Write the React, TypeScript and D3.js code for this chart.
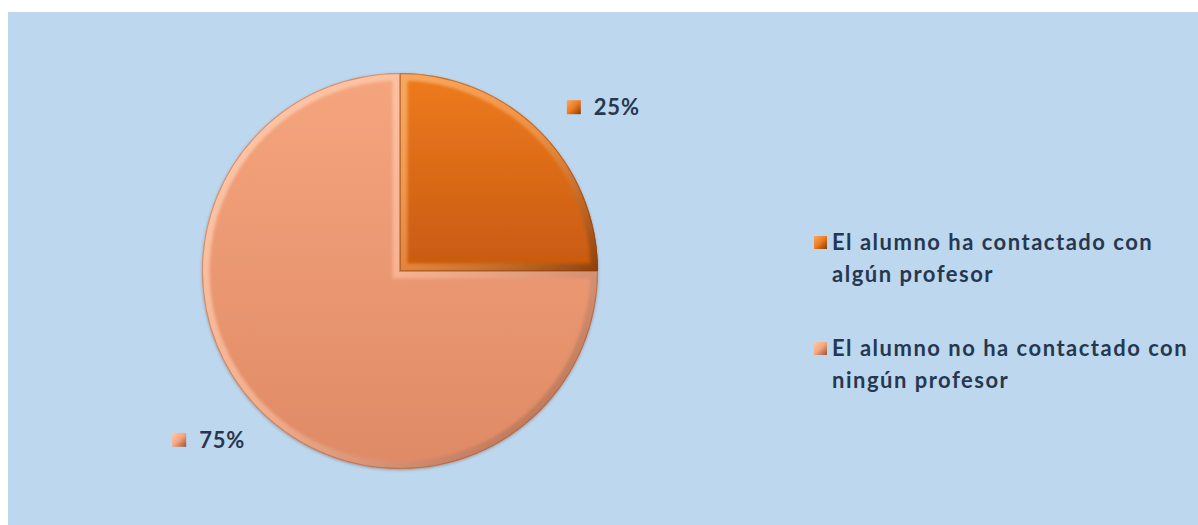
import React from "react";
import * as d3 from "d3";

const categories = [
  "El alumno ha contactado con algún profesor",
  "El alumno no ha contactado con ningún profesor",
];
const legendLines = [
  ["El alumno ha contactado con", "algún profesor"],
  ["El alumno no ha contactado con", "ningún profesor"],
];
const values = [25, 75];
const labels = ["25%", "75%"];

const W = 1198;
const H = 525;
const cx = 400;
const cy = 271;
const R = 198;
const textColor = "#263850";
const font = "Lato, 'Open Sans', sans-serif";

// [top, bottom, rim light, rim dark]
const palette = [
  ["#ee7b1f", "#c85a10", "#f8a862", "#843a08"],
  ["#f5a57e", "#df8a66", "#fdc9ab", "#9a5236"],
];

export default function App() {
  const pie = d3.pie<number>().sort(null).value((d) => d);
  const arcs = pie(values);
  const arc = d3.arc<d3.PieArcDatum<number>>().innerRadius(0).outerRadius(R);
  const labelR = R + 28;

  return (
    <div style={{ position: "absolute", left: 0, top: 0 }}>
      <svg width={W} height={H} style={{ display: "block" }}>
        <defs>
          {palette.map((p, i) => (
            <React.Fragment key={i}>
              <linearGradient id={`fill${i}`} x1="0" y1="0" x2="0" y2="1">
                <stop offset="0%" stopColor={p[0]} />
                <stop offset="100%" stopColor={p[1]} />
              </linearGradient>
              <linearGradient id={`rim${i}`} x1="0" y1="0" x2="1" y2="1">
                <stop offset="0%" stopColor={p[2]} />
                <stop offset="50%" stopColor={p[2]} stopOpacity={0.55} />
                <stop offset="100%" stopColor={p[3]} stopOpacity={0.85} />
              </linearGradient>
              <clipPath id={`clip${i}`}>
                <path d={arc(arcs[i]) || ""} transform={`translate(${cx},${cy})`} />
              </clipPath>
              <linearGradient id={`mk${i}`} x1="0" y1="0" x2="1" y2="1">
                <stop offset="0%" stopColor={p[2]} />
                <stop offset="50%" stopColor={p[0]} />
                <stop offset="100%" stopColor={p[3]} />
              </linearGradient>
            </React.Fragment>
          ))}
          <filter id="shadow" x="-10%" y="-10%" width="120%" height="120%">
            <feDropShadow dx="0" dy="1" stdDeviation="1.5" floodColor="#6a4a3a" floodOpacity="0.45" />
          </filter>
          <filter id="soft" x="-10%" y="-10%" width="120%" height="120%">
            <feGaussianBlur stdDeviation="1.8" />
          </filter>
        </defs>

        <rect x={8} y={12} width={W - 8} height={H - 12} fill="#bdd7ee" />

        <g transform={`translate(${cx},${cy})`} filter="url(#shadow)">
          {arcs.map((a, i) => (
            <path key={i} d={arc(a) || ""} fill={`url(#fill${i})`} />
          ))}
        </g>
        {/* bevel rim */}
        {arcs.map((a, i) => (
          <g key={i} clipPath={`url(#clip${i})`}>
            <g filter="url(#soft)">
              <path
                d={arc(a) || ""}
                transform={`translate(${cx},${cy})`}
                fill="none"
                stroke={`url(#rim${i})`}
                strokeWidth={15}
              />
            </g>
            <path
              d={arc(a) || ""}
              transform={`translate(${cx},${cy})`}
              fill="none"
              stroke={palette[i][3]}
              strokeOpacity={0.45}
              strokeWidth={2}
            />
          </g>
        ))}

        {/* data labels */}
        {arcs.map((a, i) => {
          const mid = (a.startAngle + a.endAngle) / 2;
          const ax = cx + labelR * Math.sin(mid);
          const ay = cy - labelR * Math.cos(mid);
          const right = Math.sin(mid) >= 0;
          const up = Math.cos(mid) >= 0;
          const gw = 68;
          const x0 = right ? ax + 7 : ax - gw;
          const baseline = up ? ay + 4 : ay + 17;
          return (
            <g key={i}>
              <rect x={x0} y={baseline - 15} width={14} height={14} fill={`url(#mk${i})`} />
              <text
                x={x0 + 27}
                y={baseline}
                fontFamily={font}
                fontWeight={700}
                fontSize={22}
                letterSpacing={0.8}
                fill={textColor}
              >
                {labels[i]}
              </text>
            </g>
          );
        })}

        {/* legend */}
        {categories.map((c, i) => {
          const by = 250 + i * 106;
          return (
            <g key={c}>
              <rect x={814} y={by - 14} width={13} height={13} fill={`url(#mk${i})`} />
              {legendLines[i].map((t, j) => (
                <text
                  key={j}
                  x={832}
                  y={by + j * 32}
                  fontFamily={font}
                  fontWeight={700}
                  fontSize={22}
                  letterSpacing={1.5}
                  fill={textColor}
                >
                  {t}
                </text>
              ))}
            </g>
          );
        })}
      </svg>
    </div>
  );
}
